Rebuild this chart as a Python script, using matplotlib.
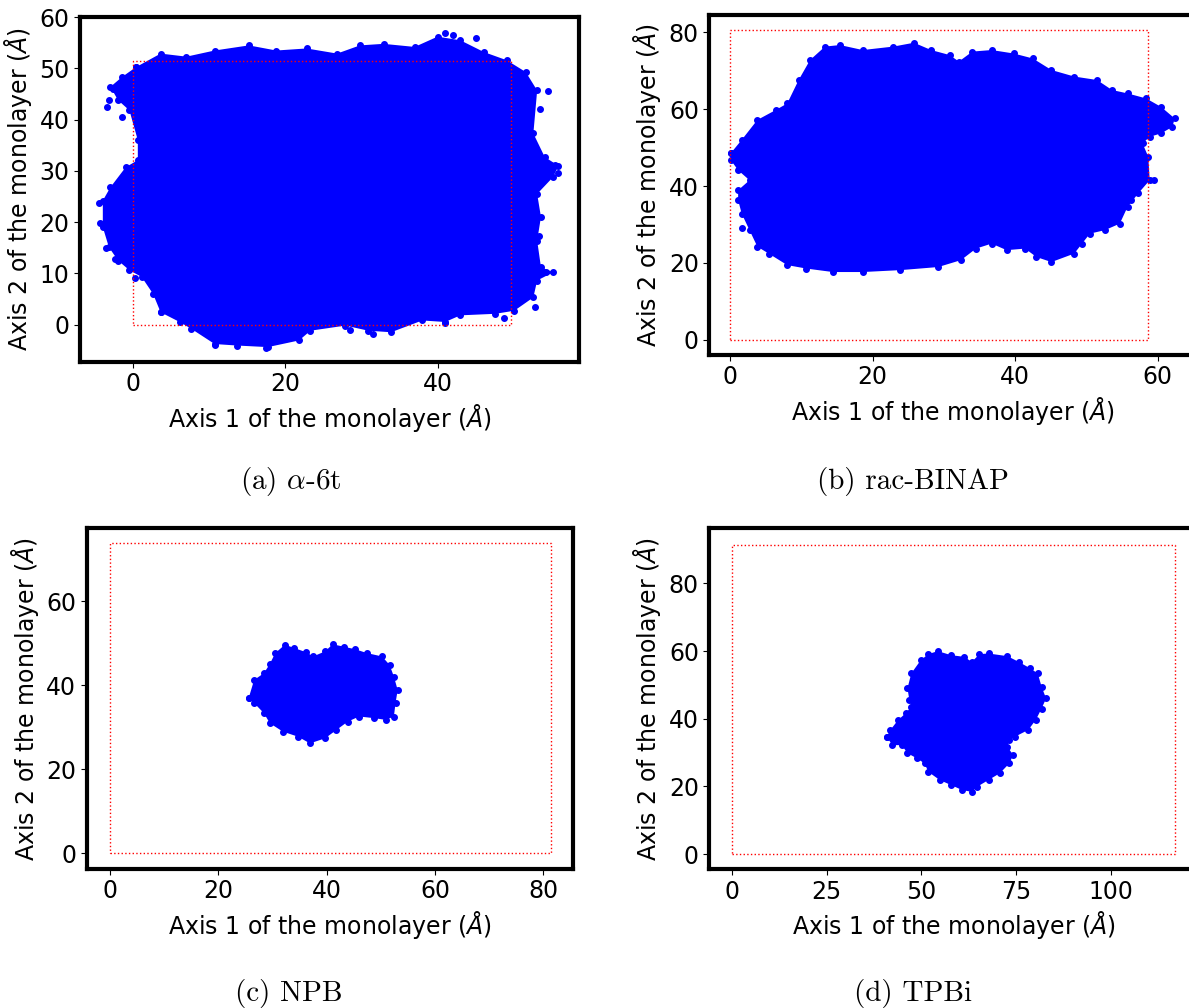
import matplotlib.pyplot as plt

# outlines of the point clouds (Angstrom)
a_x = [0.3, 3.6, 7.0, 10.7, 15.2, 18.8, 22.8, 26.8, 29.8, 32.9, 37.0, 40.0, 43.0, 46.1, 49.1, 51.6, 53.1,
       52.6, 54.1, 55.9, 55.2, 53.1, 53.6, 53.1, 53.6, 55.2, 53.1, 52.6, 50.1, 47.6, 43.0, 41.0, 38.0,
       33.9, 30.9, 27.9, 23.3, 21.8, 17.7, 13.7, 10.7, 7.6, 6.1, 3.6, 2.6, 1.1, -0.5, -2.0, -3.2, -4.0,
       -4.0, -3.0, -1.0, 0.6, 0.6, -0.5, -2.0, -3.0, -1.5]
a_y = [50.2, 52.9, 52.3, 53.5, 54.5, 53.5, 53.9, 52.9, 54.5, 54.8, 54.2, 56.2, 55.5, 53.2, 51.6, 49.3, 45.7,
       37.3, 32.7, 31.0, 28.8, 25.5, 21.0, 16.4, 11.2, 10.2, 8.6, 5.3, 2.7, 2.1, 1.8, 0.5, 0.8,
       -1.5, -1.2, -0.2, -1.2, -3.1, -4.4, -4.1, -3.8, -0.8, 0.5, 2.4, 6.0, 9.3, 10.6, 12.5, 15.1, 19.0,
       24.2, 26.8, 30.7, 32.1, 36.0, 41.8, 43.8, 46.4, 48.3]
a_extra_x = [-4.5, -4.4, -3.6, -3.2, -3.4, -2.7, -1.5, -2.4, 0.2, 55.5, 55.8, 54.3, 53.4, 54.5, 53.5,
             52.8, 48.8, 41.0, 31.5, 28.5, 10.7, 17.5, 41.0, 42.0, 45.0, 3.7]
a_extra_y = [23.7, 19.8, 15.0, 43.8, 42.5, 46.0, 40.6, 12.8, 9.0, 31.2, 29.5, 10.3, 17.2, 45.5, 42.0,
             3.5, 1.2, 0.3, -1.8, -1.0, -4.0, -4.5, 57.0, 56.5, 56.0, 2.5]

b_x = [0.05, 1.6, 3.8, 6.4, 8.0, 9.6, 11.2, 13.3, 15.4, 18.6, 22.9, 25.8, 28.2, 30.8, 32.1, 34.0,
       36.7, 39.8, 42.5, 45.1, 48.3, 51.5, 53.6, 55.8, 58.4, 60.5, 62.4, 62.1, 60.5, 58.9, 57.9, 58.7,
       58.9, 57.3, 55.8, 54.7, 52.6, 50.5, 49.4, 48.3, 45.1, 43.0, 41.4, 38.8, 36.7, 34.5, 32.4, 29.2,
       23.9, 18.6, 14.4, 10.7, 8.0, 5.4, 3.8, 2.7, 1.6, 1.1, 1.1, 2.7, 1.1, 0.05]
b_y = [48.5, 52.0, 57.2, 59.8, 61.5, 67.6, 72.8, 76.3, 76.7, 75.4, 76.3, 77.3, 75.4, 74.1, 72.4, 75.0,
       75.4, 74.5, 73.2, 70.2, 68.5, 67.6, 65.0, 64.1, 62.8, 60.6, 57.6, 55.4, 53.7, 52.8, 51.1, 47.6,
       41.5, 38.1, 34.6, 30.2, 28.5, 27.6, 25.0, 22.4, 20.2, 21.5, 23.7, 23.3, 25.0, 23.7, 20.7, 18.9,
       18.1, 17.6, 17.6, 18.5, 19.4, 22.4, 24.2, 28.5, 32.8, 36.3, 38.9, 41.5, 44.1, 46.8]
b_extra_x = [1.7, 9.7, 59.5, 56.3]
b_extra_y = [29.0, 64.0, 41.5, 36.3]

c_x = [25.6, 26.6, 28.4, 29.5, 30.5, 32.3, 34.0, 36.2, 37.5, 39.7, 41.1, 43.2, 45.3, 47.4, 50.2, 51.6,
       52.4, 53.1, 52.7, 52.4, 50.9, 48.8, 46.0, 43.9, 41.8, 39.7, 36.9, 34.7, 31.9, 29.5, 28.4, 26.6]
c_y = [37.0, 41.3, 42.9, 45.1, 47.7, 49.7, 48.9, 47.9, 46.9, 48.1, 49.8, 49.2, 48.6, 47.7, 46.9, 44.9,
       42.1, 38.9, 35.8, 32.6, 31.8, 32.2, 32.6, 31.4, 29.4, 27.4, 26.2, 27.8, 29.0, 31.0, 33.4, 35.8]

d_x = [40.8, 41.8, 43.8, 45.8, 47.3, 46.8, 46.3, 47.3, 49.8, 51.8, 54.3, 57.8, 61.3, 63.3, 65.3, 67.7,
       72.7, 75.7, 78.7, 80.7, 81.7, 82.9, 81.7, 80.2, 78.2, 74.7, 73.2, 72.7, 74.2, 73.2, 70.7, 67.7,
       64.7, 63.3, 60.8, 57.8, 54.8, 51.8, 50.8, 48.8, 46.3, 44.8, 42.3]
d_y = [34.7, 36.7, 39.6, 41.6, 43.5, 45.5, 49.0, 53.4, 57.3, 59.1, 60.0, 58.8, 58.3, 56.8, 59.1, 59.3,
       58.5, 56.8, 54.9, 53.4, 49.5, 46.0, 43.0, 39.7, 36.7, 34.7, 33.7, 31.7, 29.3, 26.8, 23.9, 21.9,
       19.9, 18.4, 18.9, 20.4, 21.9, 24.3, 26.8, 28.3, 29.8, 32.2, 32.2]

# simulation box sizes (x, y)
boxes = [(49.6, 51.4), (58.6, 80.6), (81.4, 73.8), (117.0, 91.5)]
captions = [r'(a) $\alpha$-6t', '(b) rac-BINAP', '(c) NPB', '(d) TPBi']

W, H = 1189, 1008
fig = plt.figure(figsize=(W / 100, H / 100), dpi=100)

# axes frames in pixels: left, top, right, bottom
frames = [(80, 16.7, 579, 361.7), (709.3, 14.7, 1196.7, 355),
          (86.7, 528.3, 572.7, 869), (709.4, 528.3, 1197.6, 869.3)]
xlims = [(-7.0, 58.6), (-2.95, 65.5), (-4.3, 85.4), (-6.0, 122.9)]
ylims = [(-7.25, 60.1), (-4.0, 84.6), (-3.7, 77.4), (-4.5, 96.3)]
xticks = [[0, 20, 40], [0, 20, 40, 60], [0, 20, 40, 60, 80], [0, 25, 50, 75, 100]]
yticks = [[0, 10, 20, 30, 40, 50, 60], [0, 20, 40, 60, 80], [0, 20, 40, 60], [0, 20, 40, 60, 80]]
clouds = [(a_x, a_y, a_extra_x, a_extra_y), (b_x, b_y, b_extra_x, b_extra_y),
          (c_x, c_y, [], []), (d_x, d_y, [], [])]
cap_pos = [(291, 481), (913, 481), (289, 993), (913, 993)]

for i in range(4):
    l, t, r, b = frames[i]
    ax = fig.add_axes([l / W, 1 - b / H, (r - l) / W, (b - t) / H])
    cx, cy, ex, ey = clouds[i]
    ax.fill(cx, cy, color='blue', lw=0, zorder=2)
    ax.plot(cx + [cx[0]], cy + [cy[0]], 'o', color='blue', ms=4, zorder=2)
    if ex:
        ax.plot(ex, ey, 'o', color='blue', ms=4, lw=0, zorder=2)
    bx, by = boxes[i]
    ax.plot([0, bx, bx, 0, 0], [0, 0, by, by, 0], ':', color='red', lw=1, zorder=3)
    ax.set_xlim(*xlims[i])
    ax.set_ylim(*ylims[i])
    ax.set_xticks(xticks[i])
    ax.set_yticks(yticks[i])
    ax.tick_params(labelsize=17, length=4)
    ax.set_xlabel(r'Axis 1 of the monolayer ($\AA$)', fontsize=17)
    ax.set_ylabel(r'Axis 2 of the monolayer ($\AA$)', fontsize=17)
    for s in ax.spines.values():
        s.set_linewidth(3)
    fig.text(cap_pos[i][0] / W, 1 - cap_pos[i][1] / H, captions[i], ha='center', va='center',
             fontsize=21, family='cmr10', math_fontfamily='cm')

plt.savefig('out.png', dpi=100)
